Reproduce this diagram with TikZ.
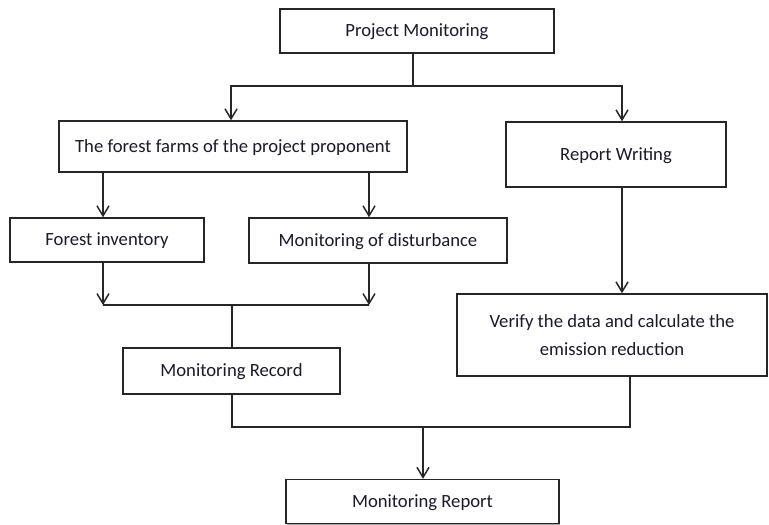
\documentclass[tikz,border=0pt]{standalone}
\usepackage{fontspec}
\setmainfont{Carlito}
\usetikzlibrary{arrows.meta,shadows}
\definecolor{txt}{HTML}{1A1A2E}
\tikzset{
  box/.style={draw=black!85, line width=1.1pt, fill=white, inner sep=0pt, align=center,
    text=txt, font=\fontsize{14}{21}\selectfont,
    drop shadow={shadow xshift=0.9pt, shadow yshift=-0.9pt, fill=black!35, opacity=1}},
  one/.style={box, text height=0.86em, text depth=0pt},
  ln/.style={draw=black!85, line width=1.1pt},
  arr/.style={ln, -{Straight Barb[length=7.5pt, width=9pt, line width=1.1pt]}}
}
\begin{document}
\begin{tikzpicture}[x=0.75pt, y=-0.75pt]
\useasboundingbox (0,0) rectangle (769,525);
% nodes
\node[one, minimum width=274*0.75pt, minimum height=44*0.75pt] (pm) at (417,31) {Project Monitoring};
\node[one, minimum width=348*0.75pt, minimum height=51*0.75pt] (ff) at (233,146.5) {The forest farms of the project proponent};
\node[one, minimum width=220*0.75pt, minimum height=65*0.75pt] (rw) at (616,154.5) {Report Writing};
\node[one, minimum width=194*0.75pt, minimum height=44*0.75pt] (fi) at (107,240) {Forest inventory};
\node[one, minimum width=258*0.75pt, minimum height=45*0.75pt] (md) at (378,240.5) {Monitoring of disturbance};
\node[box, minimum width=310*0.75pt, minimum height=82*0.75pt] (vd) at (612,335) {Verify the data and calculate the\\emission reduction};
\node[one, minimum width=217*0.75pt, minimum height=46*0.75pt] (mrec) at (231.5,371) {Monitoring Record};
\node[one, minimum width=273*0.75pt, minimum height=44*0.75pt] (mrep) at (422.5,501.5) {Monitoring Report};
% routing coordinates
\coordinate (j1) at (413,86);
\coordinate (jl) at (231,86);
\coordinate (jr) at (622,86);
\coordinate (cl) at (103,305);
\coordinate (cr) at (369,305);
\coordinate (cm) at (232,305);
\coordinate (bl) at (232,427);
\coordinate (br) at (630,427);
\coordinate (bm) at (423,427);
% connectors
\draw[ln] (pm.south -| j1) -- (j1);
\draw[arr] (j1) -- (jl) -- (ff.north -| jl);
\draw[arr] (j1) -- (jr) -- (rw.north -| jr);
\draw[arr] (ff.south -| cl) -- (fi.north -| cl);
\draw[arr] (ff.south -| cr) -- (md.north -| cr);
\draw[arr] (fi.south -| cl) -- (cl);
\draw[arr] (md.south -| cr) -- (cr);
\draw[ln] (cl) -- (cr);
\draw[ln] (cm) -- (mrec.north -| cm);
\draw[arr] (rw.south -| jr) -- (vd.north -| jr);
\draw[ln] (mrec.south -| bl) -- (bl) -- (br) -- (vd.south -| br);
\draw[arr] (bm) -- (mrep.north -| bm);
\end{tikzpicture}
\end{document}
